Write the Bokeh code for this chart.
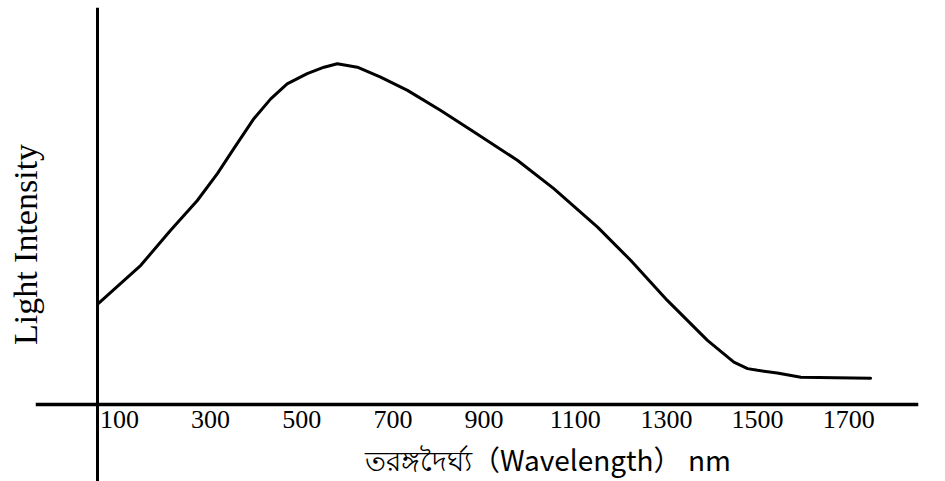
from bokeh.plotting import figure
from bokeh.models import FixedTicker, Label, Range1d, LinearAxis
from bokeh.embed import file_html
from bokeh.resources import INLINE

# Data
wavelength = [53, 147, 212, 271, 315, 351, 395, 432, 468, 512, 549, 578, 622, 673,
              732, 805, 878, 973, 1053, 1149, 1222, 1302, 1390, 1448, 1478, 1500,
              1543, 1595, 1748]
intensity = [29.5, 40.8, 51.0, 59.8, 67.7, 75.0, 83.8, 89.6, 94.0, 97.0, 98.9, 99.9,
             98.9, 96.0, 92.1, 86.2, 79.9, 71.6, 63.3, 52.0, 42.2, 30.5, 18.8, 12.4,
             10.5, 10.0, 9.2, 8.0, 7.7]
tick_values = [100, 300, 500, 700, 900, 1100, 1300, 1500, 1700]
tick_labels = ["100", "300", "500", "700", "900", "1100", "1300", "1500", "1700"]
x_title = "তরঙ্গদৈর্ঘ্য（Wavelength） nm"
y_title = "Light Intensity"
y_axis_at = 53

p = figure(width=945, height=481, output_backend="svg", toolbar_location=None,
           x_range=Range1d(-84, 1853), y_range=Range1d(-22.6, 116.4),
           min_border_left=35, min_border_right=27, min_border_top=7, min_border_bottom=0)
p.outline_line_color = None
p.grid.visible = False
p.background_fill_color = "white"
p.border_fill_color = "white"

xa = p.xaxis[0]
xa.fixed_location = 0
xa.ticker = FixedTicker(ticks=tick_values)
xa.major_label_overrides = {v: s for v, s in zip(tick_values, tick_labels)}
xa.axis_line_width = 3.5
xa.axis_line_color = "black"
xa.major_tick_line_color = None
xa.minor_tick_line_color = None
xa.major_tick_out = 0
xa.major_label_standoff = 7
xa.major_label_text_font = "Liberation Serif"
xa.major_label_text_font_size = "26px"
xa.major_label_text_color = "black"

# left side axis: only carries the title
ya = p.yaxis[0]
ya.ticker = FixedTicker(ticks=[])
ya.axis_line_color = None
ya.major_tick_line_color = None
ya.minor_tick_line_color = None
ya.major_tick_out = 0
ya.major_tick_in = 0
ya.major_label_standoff = 0
ya.major_label_text_font_size = "0px"
ya.axis_label = y_title
ya.axis_label_text_font = "Liberation Serif"
ya.axis_label_text_font_size = "34px"
ya.axis_label_text_font_style = "normal"
ya.axis_label_text_color = "black"
ya.axis_label_standoff = -8

# vertical axis line crossing the x axis
yline = LinearAxis(fixed_location=y_axis_at, ticker=FixedTicker(ticks=[]),
                   axis_line_width=3, axis_line_color="black",
                   major_tick_line_color=None, minor_tick_line_color=None,
                   major_label_text_font_size="0px")
p.add_layout(yline, "left")

p.line(wavelength, intensity, line_width=3, line_color="black", line_join="round", line_cap="round")

p.add_layout(Label(x=1040, y=-16.0, text=x_title, text_align="center", text_baseline="middle",
                   text_font="Noto Sans CJK SC", text_font_size="28px", text_color="black"))

open("out.html", "w").write(file_html(p, INLINE))
